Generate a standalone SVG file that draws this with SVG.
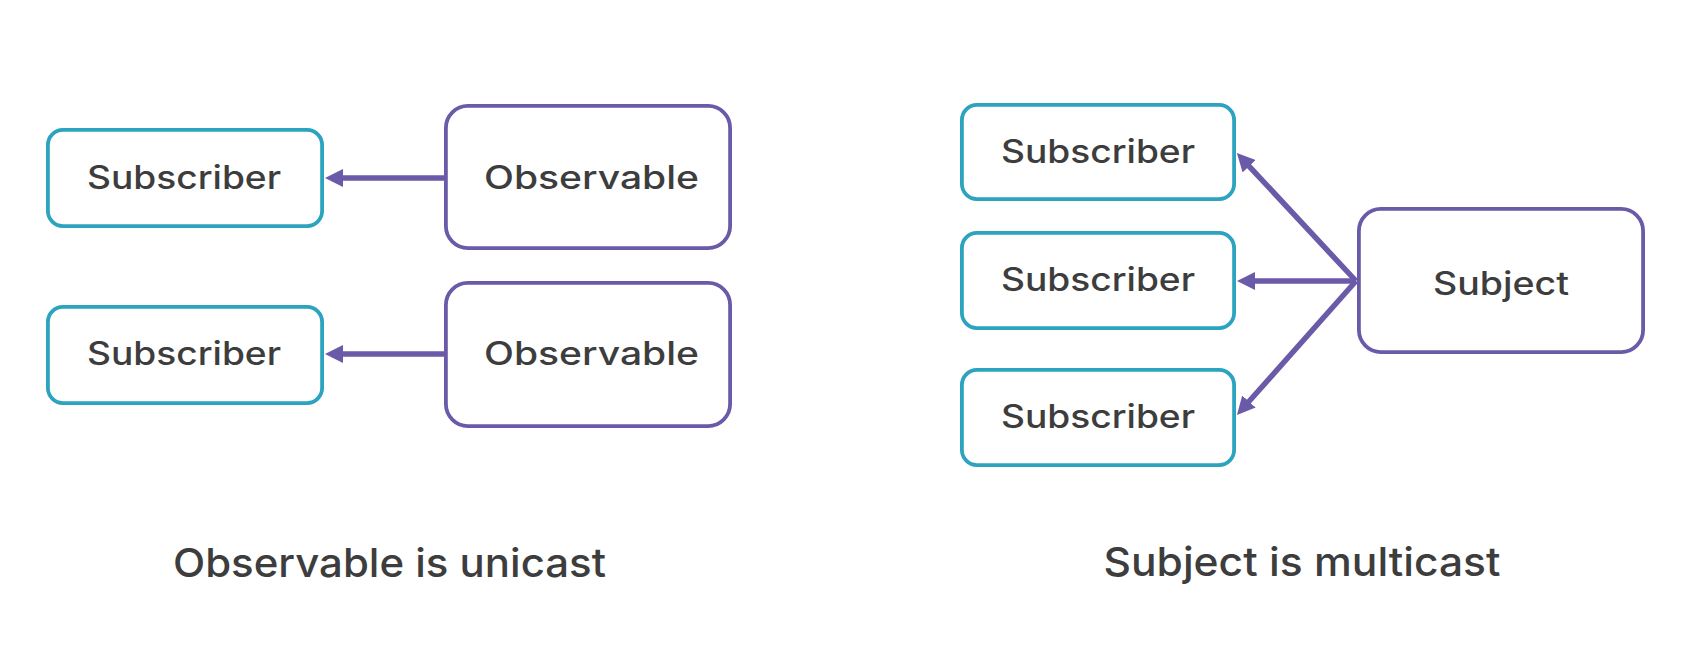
<svg xmlns="http://www.w3.org/2000/svg" width="1686" height="662" viewBox="0 0 1686 662">
  <style>
    .sub { fill: #ffffff; stroke: #2ca3bf; stroke-width: 3.8; }
    .src { fill: #ffffff; stroke: #6a5aa8; stroke-width: 3.8; }
    .lbl { font-family: Inter, "Open Sans", "Liberation Sans", sans-serif; font-size: 32px; font-weight: 500; fill: #3d3d3d; text-anchor: middle; }
    .ttl { font-family: Inter, "Open Sans", "Liberation Sans", sans-serif; font-size: 40px; font-weight: 500; fill: #3d3d3d; text-anchor: middle; }
    .conn { stroke: #6a5aa8; stroke-width: 5.5; fill: none; marker-end: url(#arrow); }
  </style>
  <defs>
    <marker id="arrow" viewBox="0 0 18 18" refX="2" refY="9" markerWidth="18" markerHeight="18" markerUnits="userSpaceOnUse" orient="auto">
      <path d="M0,0 L18,9 L0,18 z" fill="#6a5aa8"/>
    </marker>
  </defs>
  <rect width="1686" height="662" fill="#ffffff"/>

  <g id="connectors">
    <line class="conn" x1="444" y1="178" x2="341" y2="178"/>
    <line class="conn" x1="444" y1="354" x2="341" y2="354"/>
    <line class="conn" x1="1356" y1="281" x2="1247.8" y2="164.8"/>
    <line class="conn" x1="1356" y1="281" x2="1253" y2="281"/>
    <line class="conn" x1="1356" y1="281" x2="1247.6" y2="403"/>
  </g>

  <g id="subscriber-left-1">
    <rect class="sub" x="47.9" y="129.9" width="274.2" height="96.2" rx="15"/>
    <text class="lbl" x="184" y="188.5" textLength="194" lengthAdjust="spacingAndGlyphs">Subscriber</text>
  </g>
  <g id="observable-1">
    <rect class="src" x="445.9" y="105.9" width="284.2" height="142.2" rx="22"/>
    <text class="lbl" x="591.5" y="189" textLength="215" lengthAdjust="spacingAndGlyphs">Observable</text>
  </g>
  <g id="subscriber-left-2">
    <rect class="sub" x="47.9" y="306.9" width="274.2" height="96.2" rx="15"/>
    <text class="lbl" x="184" y="365" textLength="194" lengthAdjust="spacingAndGlyphs">Subscriber</text>
  </g>
  <g id="observable-2">
    <rect class="src" x="445.9" y="282.9" width="284.2" height="143.2" rx="22"/>
    <text class="lbl" x="591.5" y="365" textLength="215" lengthAdjust="spacingAndGlyphs">Observable</text>
  </g>

  <g id="subscriber-right-1">
    <rect class="sub" x="961.9" y="104.9" width="272.2" height="94.2" rx="15"/>
    <text class="lbl" x="1098" y="163" textLength="194" lengthAdjust="spacingAndGlyphs">Subscriber</text>
  </g>
  <g id="subscriber-right-2">
    <rect class="sub" x="961.9" y="232.9" width="272.2" height="95.2" rx="15"/>
    <text class="lbl" x="1098" y="291" textLength="194" lengthAdjust="spacingAndGlyphs">Subscriber</text>
  </g>
  <g id="subscriber-right-3">
    <rect class="sub" x="961.9" y="369.9" width="272.2" height="95.2" rx="15"/>
    <text class="lbl" x="1098" y="428" textLength="194" lengthAdjust="spacingAndGlyphs">Subscriber</text>
  </g>
  <g id="subject">
    <rect class="src" x="1358.9" y="208.9" width="284.2" height="143.2" rx="22"/>
    <text class="lbl" x="1501" y="295" textLength="136" lengthAdjust="spacingAndGlyphs">Subject</text>
  </g>

  <g id="captions">
    <text class="ttl" x="389.5" y="576.5" textLength="433" lengthAdjust="spacingAndGlyphs">Observable is unicast</text>
    <text class="ttl" x="1302" y="576" textLength="397" lengthAdjust="spacingAndGlyphs">Subject is multicast</text>
  </g>
</svg>
